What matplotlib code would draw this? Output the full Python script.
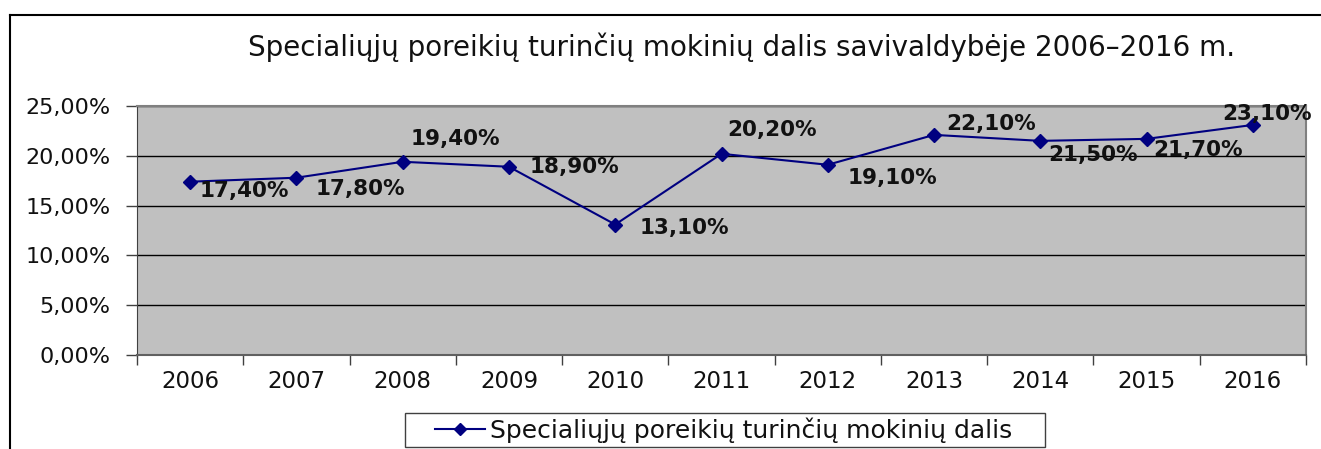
import matplotlib
matplotlib.use("Agg")
import matplotlib.pyplot as plt
from matplotlib.lines import Line2D
from matplotlib.patches import Rectangle
from matplotlib.ticker import FixedLocator, FuncFormatter

years = ["2006", "2007", "2008", "2009", "2010", "2011", "2012", "2013", "2014", "2015", "2016"]
values = [17.4, 17.8, 19.4, 18.9, 13.1, 20.2, 19.1, 22.1, 21.5, 21.7, 23.1]
value_labels = ["17,40%", "17,80%", "19,40%", "18,90%", "13,10%", "20,20%",
                "19,10%", "22,10%", "21,50%", "21,70%", "23,10%"]
y_ticks = [0, 5, 10, 15, 20, 25]
title = "Specialiųjų poreikių turinčių mokinių dalis savivaldybėje 2006–2016 m."
series_name = "Specialiųjų poreikių turinčių mokinių dalis"

# label offsets in pixels (style only)
offsets = [(9, -9), (19, -11), (8, 23), (21, 0), (24, -3), (6, 24),
           (20, -13), (12, 11), (8, -14), (7, -11), (-31, 11)]

plt.rcParams['font.family'] = ['DejaVu Sans']

W, H = 1321, 449
fig = plt.figure(figsize=(W / 100, H / 100), dpi=100)
ax = fig.add_axes([137 / W, 1 - 355 / H, (1306 - 137) / W, (355 - 106) / H])
ax.set_facecolor("#C0C0C0")

x = list(range(len(years)))
ax.plot(x, values, color="#000080", lw=1.5, marker="D", ms=7,
        markerfacecolor="#000080", markeredgecolor="#000080", label=series_name, zorder=3)

for xi, v, lab, (dx, dy) in zip(x, values, value_labels, offsets):
    ax.annotate(lab, (xi, v), xytext=(dx, dy), textcoords="offset pixels",
                ha="left", va="center", fontsize=15.5, fontweight="bold", color="#111111", zorder=4)

ax.set_xlim(-0.5, len(years) - 0.5)
ax.set_ylim(0, 25)
ax.yaxis.set_major_locator(FixedLocator(y_ticks))
ax.yaxis.set_major_formatter(FuncFormatter(lambda v, p: f"{v:.2f}".replace(".", ",") + "%"))
ax.grid(axis="y", color="black", lw=1)
ax.set_axisbelow(True)

ax.set_xticks([i - 0.5 for i in range(len(years) + 1)])
ax.set_xticklabels([])
ax.set_xticks(x, minor=True)
ax.set_xticklabels(years, minor=True)
ax.tick_params(axis="x", which="major", direction="out", length=7, width=1, color="#404040")
ax.tick_params(axis="x", which="minor", length=0, pad=11, labelsize=16.5, labelcolor="#111111")
ax.tick_params(axis="y", direction="out", length=8, width=1, color="#404040",
               labelsize=16, labelcolor="#111111", pad=11)

for s in ["top", "right"]:
    ax.spines[s].set_color("#808080")
    ax.spines[s].set_linewidth(1.5)
ax.spines["left"].set_color("#404040")
ax.spines["bottom"].set_color("#606060")
ax.spines["bottom"].set_linewidth(1.5)

fig.text(742 / W, 1 - 47 / H, title, ha="center", va="center", fontsize=20, color="#111111")

leg = fig.legend(handles=[Line2D([0], [0], color="#000080", lw=1.5, marker="D", ms=6,
                                 label=series_name)],
                 loc="center left", bbox_to_anchor=(435 / W, 1 - 430 / H), frameon=False,
                 fontsize=18, handlelength=2.0, handletextpad=0.2, borderpad=0,
                 borderaxespad=0, labelcolor="#111111")

fig.add_artist(Rectangle((405 / W, 1 - 447 / H), 640 / W, 34 / H, transform=fig.transFigure,
                         fill=False, edgecolor="#404040", lw=1))
fig.add_artist(Line2D([10 / W, 1], [1 - 15 / H, 1 - 15 / H], transform=fig.transFigure, color="black", lw=1.5))
fig.add_artist(Line2D([10 / W, 10 / W], [0, 1 - 15 / H], transform=fig.transFigure, color="black", lw=1.5))

fig.savefig("out.png", dpi=100)
